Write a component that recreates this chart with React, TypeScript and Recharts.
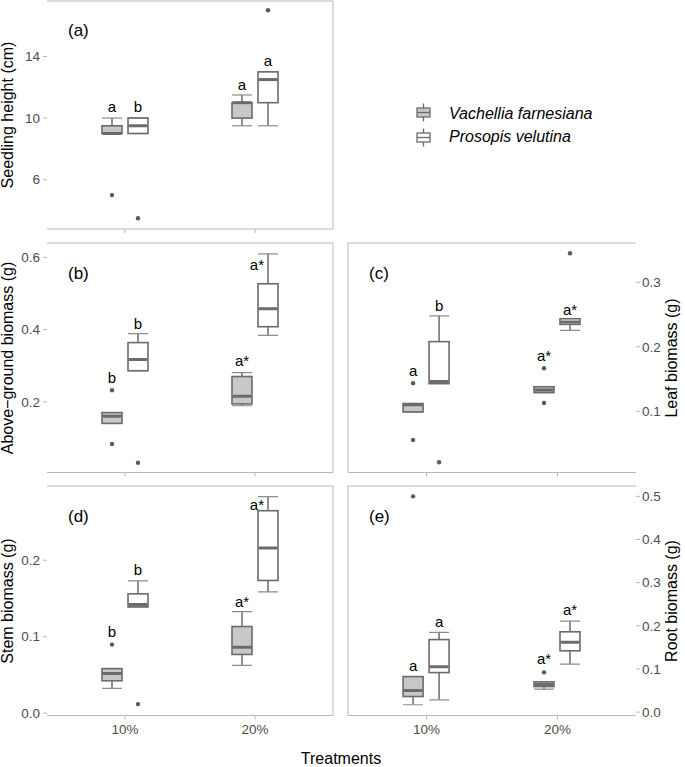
import React from 'react';
import { ComposedChart, Bar, XAxis, YAxis } from 'recharts';

const treatments = ['10%', '20%'];
const speciesNames = ['Vachellia farnesiana', 'Prosopis velutina'];

// each box: [min, q1, median, q3, max] per treatment (10%, 20%)
// (a) seedling height (cm)
const heightVach = [[9, 9, 9, 9.5, 10], [9.5, 10, 11, 11, 11.5]];
const heightPros = [[9, 9, 9.5, 10, 10], [9.5, 11, 12.5, 13, 13]];
const heightVachOut = [[5], []];
const heightProsOut = [[3.5], [17]];
const heightVachSig = ['a', 'a'];
const heightProsSig = ['b', 'a'];
const heightVachSigAt = [10.37, 11.8];
const heightProsSigAt = [10.37, 13.36];

// (b) above-ground biomass (g)
const aboveVach = [[0.14, 0.14, 0.16, 0.17, 0.17], [0.189, 0.194, 0.215, 0.27, 0.281]];
const abovePros = [[0.286, 0.286, 0.317, 0.364, 0.389], [0.384, 0.408, 0.458, 0.527, 0.61]];
const aboveVachOut = [[0.232, 0.083], []];
const aboveProsOut = [[0.031], []];
const aboveVachSig = ['b', 'a*'];
const aboveProsSig = ['b', 'a*'];
const aboveVachSigAt = [0.253, 0.299];
const aboveProsSigAt = [0.402, 0.564];

// (c) leaf biomass (g)
const leafVach = [[0.099, 0.099, 0.11, 0.112, 0.112], [0.129, 0.129, 0.133, 0.138, 0.138]];
const leafPros = [[0.143, 0.143, 0.146, 0.208, 0.248], [0.2256, 0.2348, 0.2385, 0.2435, 0.2435]];
const leafVachOut = [[0.1436, 0.0554], [0.1666, 0.1128]];
const leafProsOut = [[0.021], [0.345]];
const leafVachSig = ['a', 'a*'];
const leafProsSig = ['b', 'a*'];
const leafVachSigAt = [0.155, 0.178];
const leafProsSigAt = [0.255, 0.25];

// (d) stem biomass (g)
const stemVach = [[0.0325, 0.0424, 0.0519, 0.0583, 0.0583], [0.0626, 0.0768, 0.0862, 0.1133, 0.1327]];
const stemPros = [[0.139, 0.139, 0.142, 0.156, 0.173], [0.1585, 0.1735, 0.216, 0.2647, 0.283]];
const stemVachOut = [[0.0897], []];
const stemProsOut = [[0.0119], []];
const stemVachSig = ['b', 'a*'];
const stemProsSig = ['b', 'a*'];
const stemVachSigAt = [0.1, 0.139];
const stemProsSigAt = [0.181, 0.265];

// (e) root biomass (g)
const rootVach = [[0.0169, 0.036, 0.0499, 0.0822, 0.0822], [0.053, 0.059, 0.064, 0.07, 0.07]];
const rootPros = [[0.0284, 0.0915, 0.105, 0.168, 0.1846], [0.111, 0.142, 0.162, 0.186, 0.211]];
const rootVachOut = [[0.5], [0.092]];
const rootProsOut = [[], []];
const rootVachSig = ['a', 'a*'];
const rootProsSig = ['a', 'a*'];
const rootVachSigAt = [0.096, 0.111];
const rootProsSigAt = [0.196, 0.225];

const C = {
  dark: '#6b6b6b',
  cap: '#8c8c8c',
  out: '#5a5a5a',
  vFill: '#c8c8c8',
  pFill: '#ffffff',
  border: '#b8b8b8',
  tick: '#4d4d4d',
};

const extent = (s: any) => {
  const all = [...s.five, ...s.out, s.sigAt];
  return [Math.min(...all), Math.max(...all)];
};

function makeRows(vach: number[][], vachOut: number[][], vachSig: string[], vachSigAt: number[],
  pros: number[][], prosOut: number[][], prosSig: string[], prosSigAt: number[]) {
  return treatments.map((cat, i) => {
    const v = { five: vach[i], out: vachOut[i], sig: vachSig[i], sigAt: vachSigAt[i] };
    const p = { five: pros[i], out: prosOut[i], sig: prosSig[i], sigAt: prosSigAt[i] };
    return { cat, v, p, vRange: extent(v), pRange: extent(p) };
  });
}

function BoxGlyph(props: any) {
  const { x, y, width, height, stat, range, fill } = props;
  if (!stat || !range) return null;
  const [lo, hi] = range;
  const top = Math.min(y, y + height);
  const span = Math.abs(height);
  const py = (v: number) => top + ((hi - v) / (hi - lo)) * span;
  const cx = x + width / 2;
  const [mn, q1, md, q3, mx] = stat.five;
  const beside = stat.sigAt < mx;
  return (
    <g>
      <line x1={cx} x2={cx} y1={py(mx)} y2={py(mn)} stroke={C.dark} strokeWidth={1.5} />
      <line x1={x} x2={x + width} y1={py(mx)} y2={py(mx)} stroke={C.cap} strokeWidth={1.2} />
      <line x1={x} x2={x + width} y1={py(mn)} y2={py(mn)} stroke={C.cap} strokeWidth={1.2} />
      <rect x={x} y={py(q3)} width={width} height={Math.max(py(q1) - py(q3), 0.5)} fill={fill} stroke={C.dark} strokeWidth={1.6} />
      <line x1={x + 0.5} x2={x + width - 0.5} y1={py(md)} y2={py(md)} stroke={C.dark} strokeWidth={3} />
      {stat.out.map((o: number, i: number) => (
        <circle key={i} cx={cx} cy={py(o)} r={2.2} fill={C.out} />
      ))}
      <text x={beside ? cx - 4 : cx} y={py(stat.sigAt)} textAnchor={beside ? 'end' : 'middle'} fontSize={15} fill="#000">
        {stat.sig}
      </text>
    </g>
  );
}

type PanelProps = {
  rows: any[];
  domain: [number, number];
  ticks: number[];
  fmt: (v: number) => string;
  side: 'left' | 'right';
  left: number;
  top: number;
  w: number;
  h: number;
  showX: boolean;
};

function Panel({ rows, domain, ticks, fmt, side, left, top, w, h, showX }: PanelProps) {
  const xh = showX ? 30 : 6;
  const yw = side === 'left' ? left : 49;
  // the frame axes take 1px each; margins make up the rest
  const ml = side === 'left' ? 0 : 7;
  const mr = side === 'left' ? 4 : 0;
  const chartLeft = side === 'left' ? 0 : left - 8;
  const width = side === 'left' ? left + w + mr + 1 : ml + 1 + w + yw;
  const height = 1 + h + xh;
  const pad = w / 22;
  return (
    <div style={{ position: 'absolute', left: chartLeft, top: top - 1 }}>
      <ComposedChart width={width} height={height} data={rows} barSize={20} barGap={6}
        margin={{ top: 0, right: mr, bottom: 0, left: ml }}>
        <XAxis dataKey="cat" height={xh} padding={{ left: pad, right: pad }}
          axisLine={{ stroke: C.border }} tickLine={{ stroke: C.border }} tickSize={4} tickMargin={5}
          tick={showX ? { fill: C.tick, fontSize: 13.5 } : <g />} interval={0} />
        <XAxis xAxisId="top" dataKey="cat" orientation="top" height={1} tick={false} tickLine={false}
          axisLine={{ stroke: C.border }} />
        <YAxis type="number" domain={domain} ticks={ticks} allowDataOverflow orientation={side} width={yw}
          axisLine={false} tickLine={{ stroke: C.border }} tickSize={4} tickMargin={side === 'left' ? 3 : 2}
          tick={{ fill: C.tick, fontSize: 13.5 }} tickFormatter={fmt} interval={0} />
        <YAxis yAxisId="edge" type="number" domain={domain} allowDataOverflow
          orientation={side === 'left' ? 'right' : 'left'} width={1} tick={false} tickLine={false}
          axisLine={{ stroke: C.border }} />
        <Bar dataKey="vRange" isAnimationActive={false}
          shape={(p: any) => <BoxGlyph {...p} stat={p.payload.v} range={p.payload.vRange} fill={C.vFill} />} />
        <Bar dataKey="pRange" isAnimationActive={false}
          shape={(p: any) => <BoxGlyph {...p} stat={p.payload.p} range={p.payload.pRange} fill={C.pFill} />} />
      </ComposedChart>
    </div>
  );
}

const heightRows = makeRows(heightVach, heightVachOut, heightVachSig, heightVachSigAt, heightPros, heightProsOut, heightProsSig, heightProsSigAt);
const aboveRows = makeRows(aboveVach, aboveVachOut, aboveVachSig, aboveVachSigAt, abovePros, aboveProsOut, aboveProsSig, aboveProsSigAt);
const leafRows = makeRows(leafVach, leafVachOut, leafVachSig, leafVachSigAt, leafPros, leafProsOut, leafProsSig, leafProsSigAt);
const stemRows = makeRows(stemVach, stemVachOut, stemVachSig, stemVachSigAt, stemPros, stemProsOut, stemProsSig, stemProsSigAt);
const rootRows = makeRows(rootVach, rootVachOut, rootVachSig, rootVachSigAt, rootPros, rootProsOut, rootProsSig, rootProsSigAt);

const int = (v: number) => String(v);
const one = (v: number) => v.toFixed(1);

function LegendKey({ cx, cy, fill }: { cx: number; cy: number; fill: string }) {
  return (
    <g>
      <line x1={cx} x2={cx} y1={cy - 9} y2={cy + 9} stroke={C.dark} strokeWidth={1.3} />
      <rect x={cx - 6.5} y={cy - 4.5} width={13} height={9} fill={fill} stroke={C.dark} strokeWidth={1.3} />
      <line x1={cx - 6.5} x2={cx + 6.5} y1={cy} y2={cy} stroke={C.dark} strokeWidth={1.3} />
    </g>
  );
}

export default function App() {
  return (
    <div style={{ position: 'relative', width: 685, height: 767, background: '#fff', fontFamily: '"Liberation Sans", Arial, sans-serif' }}>
      <style>{'body{margin:0}'}</style>
      <Panel rows={heightRows} domain={[2.8, 17.6]} ticks={[6, 10, 14]} fmt={int} side="left" left={47} top={1} w={286} h={228} showX={false} />
      <Panel rows={aboveRows} domain={[0.004, 0.64]} ticks={[0.2, 0.4, 0.6]} fmt={one} side="left" left={47} top={243} w={286} h={229.5} showX={false} />
      <Panel rows={leafRows} domain={[0.005, 0.361]} ticks={[0.1, 0.2, 0.3]} fmt={one} side="right" left={348} top={243} w={288} h={229.5} showX={false} />
      <Panel rows={stemRows} domain={[-0.003, 0.297]} ticks={[0, 0.1, 0.2]} fmt={one} side="left" left={47} top={486} w={286} h={229.5} showX={true} />
      <Panel rows={rootRows} domain={[-0.008, 0.524]} ticks={[0, 0.1, 0.2, 0.3, 0.4, 0.5]} fmt={one} side="right" left={348} top={486} w={288} h={229.5} showX={true} />
      <svg width={685} height={767} style={{ position: 'absolute', left: 0, top: 0, pointerEvents: 'none' }}>
        <g fontSize={17} fill="#000">
          <text x={68} y={36}>(a)</text>
          <text x={68} y={279}>(b)</text>
          <text x={369} y={279}>(c)</text>
          <text x={68} y={522}>(d)</text>
          <text x={369} y={522}>(e)</text>
        </g>
        <g fontSize={16} fill="#000" textAnchor="middle">
          <text transform="translate(13,115) rotate(-90)">Seedling height (cm)</text>
          <text transform="translate(13,358) rotate(-90)">Above−ground biomass (g)</text>
          <text transform="translate(13,601) rotate(-90)">Stem biomass (g)</text>
          <text transform="translate(677,358) rotate(-90)">Leaf biomass (g)</text>
          <text transform="translate(677,601) rotate(-90)">Root biomass (g)</text>
        </g>
        <text x={341} y={764} fontSize={16} textAnchor="middle" fill="#000">Treatments</text>
        <LegendKey cx={423.5} cy={112.5} fill={C.vFill} />
        <LegendKey cx={423.5} cy={137.5} fill={C.pFill} />
        <text x={449} y={119} fontSize={16} fontStyle="italic" fill="#000">{speciesNames[0]}</text>
        <text x={449} y={142} fontSize={16} fontStyle="italic" fill="#000">{speciesNames[1]}</text>
      </svg>
    </div>
  );
}
